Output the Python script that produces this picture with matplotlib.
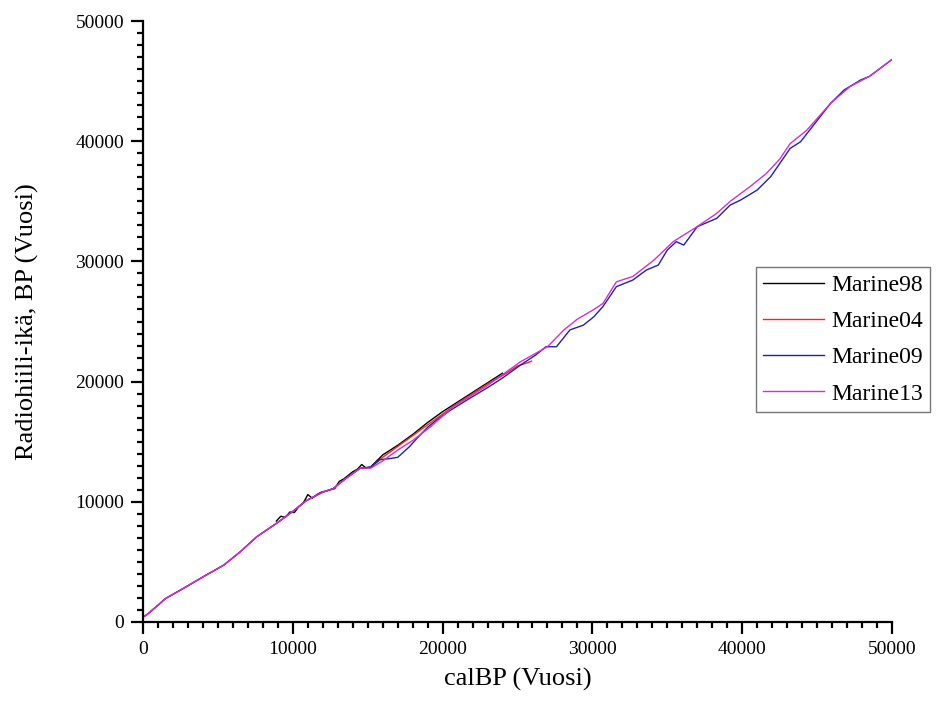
import matplotlib
matplotlib.use("Agg")
import matplotlib.pyplot as plt
from matplotlib.ticker import MultipleLocator

# Marine13 (magenta)
x13 = [0, 300, 1000, 1500, 2700, 4000, 5400, 6500, 7600, 8900, 10000, 10900, 12000,
       12700, 13500, 14500, 15200, 16000, 17000, 18000, 19200, 20700, 22900, 25200,
       27000, 28100, 29000, 30100, 30700, 31600, 32700, 34100, 35400, 37000, 38300,
       39200, 40500, 41600, 42500, 43200, 44300, 45900, 47200, 48500, 50000]
y13 = [400, 650, 1400, 1950, 2800, 3750, 4740, 5850, 7100, 8200, 9200, 10100, 10800,
       11100, 11900, 12800, 12800, 13400, 14300, 15100, 16250, 17900, 19600, 21650,
       22900, 24300, 25200, 26000, 26500, 28300, 28750, 30100, 31650, 32900, 34000,
       35000, 36200, 37300, 38500, 39800, 40900, 43150, 44550, 45400, 46800]

# Marine09 (blue)
x09 = [0, 300, 1000, 1500, 2700, 4000, 5400, 6500, 7600, 8900, 10000, 10900, 12000,
       12700, 13500, 14500, 15200, 15800, 16500, 17000, 17800, 18300, 19000, 19600,
       20500, 21800, 23000, 24000, 25200, 26200, 26900, 27600, 28500, 29400, 30100,
       30700, 31600, 32700, 33600, 34400, 35000, 35600, 36100, 37000, 38300, 39200,
       39900, 41000, 41900, 43200, 43900, 45900, 46800, 47900, 48500, 50000]
y09 = [400, 650, 1400, 1950, 2800, 3750, 4740, 5850, 7100, 8200, 9200, 10100, 10800,
       11100, 11900, 12800, 12900, 13500, 13600, 13700, 14600, 15300, 16200, 16800,
       17600, 18600, 19500, 20300, 21380, 22200, 22900, 22900, 24300, 24700, 25400,
       26240, 27900, 28450, 29280, 29700, 30950, 31640, 31360, 32890, 33580, 34690,
       35110, 35940, 37050, 39400, 39960, 43150, 44260, 45090, 45400, 46800]

# Marine04 (red)
x04 = [0, 300, 1000, 1500, 2700, 4000, 5400, 6500, 7600, 8900, 10000, 10900, 12000,
       12700, 13500, 14500, 15200, 16000, 17000, 18000, 19000, 20000, 21000, 22000,
       23000, 24000, 25000, 25500, 25940]
y04 = [400, 650, 1400, 1950, 2800, 3750, 4740, 5850, 7100, 8200, 9200, 10100, 10800,
       11100, 11900, 12800, 12850, 13700, 14600, 15500, 16400, 17300, 18200, 19000,
       19800, 20500, 21300, 21500, 21700]

# Marine98 (black)
x98 = [8900, 9200, 9500, 9800, 10100, 10400, 10700, 11000, 11300, 11600, 11900,
       12200, 12500, 12800, 13100, 13400, 13700, 14000, 14300, 14600, 14900, 15200,
       16000, 17000, 18000, 19000, 20000, 21000, 22000, 23000, 24000]
y98 = [8400, 8800, 8700, 9150, 9100, 9600, 9900, 10600, 10300, 10600, 10800,
       10900, 11000, 11100, 11700, 11900, 12200, 12500, 12700, 13100, 12800, 12900,
       13900, 14700, 15600, 16600, 17500, 18300, 19100, 19900, 20700]

series = [("Marine98", x98, y98, "#000000"),
          ("Marine04", x04, y04, "#ff2020"),
          ("Marine09", x09, y09, "#2020b0"),
          ("Marine13", x13, y13, "#d030d0")]

plt.rcParams['font.family'] = ['Liberation Serif', 'DejaVu Serif']

fig = plt.figure(figsize=(9.36, 7.17), dpi=100)
ax = fig.add_axes([0.1528, 0.1325, 0.8002, 0.8382])

for name, xs, ys, c in series:
    ax.plot(xs, ys, color=c, lw=1.0, label=name)

ax.set_xlim(0, 50000)
ax.set_ylim(0, 50000)
ax.xaxis.set_major_locator(MultipleLocator(10000))
ax.xaxis.set_minor_locator(MultipleLocator(1000))
ax.yaxis.set_major_locator(MultipleLocator(10000))
ax.yaxis.set_minor_locator(MultipleLocator(1000))
for s in ("top", "right"):
    ax.spines[s].set_visible(False)
for s in ("left", "bottom"):
    ax.spines[s].set_linewidth(1.6)
ax.tick_params(which="major", length=8.5, width=1.6, labelsize=14, pad=5, direction="out")
ax.tick_params(which="minor", length=4.5, width=1.6, direction="out")

ax.set_xlabel("calBP (Vuosi)", fontsize=19, labelpad=7)
ax.set_ylabel("Radiohiili-ikä, BP (Vuosi)", fontsize=19, labelpad=26)

leg = ax.legend(loc="upper left", bbox_to_anchor=(0.818, 0.59), fontsize=17,
                frameon=True, fancybox=False, edgecolor="#555555", borderpad=0.3,
                labelspacing=0.62, handlelength=2.6, handletextpad=0.3, borderaxespad=0)
leg.get_frame().set_linewidth(1.0)

fig.savefig("out.png", dpi=100)
